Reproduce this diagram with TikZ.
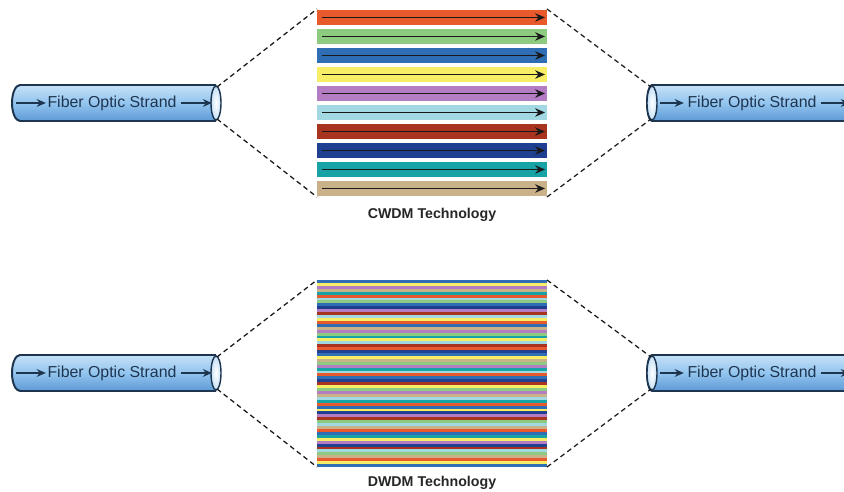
\documentclass[tikz,border=0pt]{standalone}
\usepackage{fontspec}
\setmainfont{Liberation Sans}
\usetikzlibrary{arrows.meta,calc}
\definecolor{w1}{HTML}{E85A2B}
\definecolor{w2}{HTML}{8DCB80}
\definecolor{w3}{HTML}{2F6DB5}
\definecolor{w4}{HTML}{F7EE66}
\definecolor{w5}{HTML}{B37CC3}
\definecolor{w6}{HTML}{A2D8E2}
\definecolor{w7}{HTML}{A8341F}
\definecolor{w8}{HTML}{1F3F90}
\definecolor{w9}{HTML}{17A2A6}
\definecolor{w10}{HTML}{C9B189}
\definecolor{navy}{HTML}{1E3550}
\definecolor{tubetop}{HTML}{C6E1F7}
\definecolor{tubemid}{HTML}{92C4EE}
\definecolor{tubebot}{HTML}{5E9AD6}
\begin{document}
\begin{tikzpicture}[x=0.025cm, y=0.025cm, every node/.style={font=\fontsize{11.3}{13}\selectfont}]
  \tikzstyle{tube}=[top color=tubetop, bottom color=tubebot, middle color=tubemid]
  \tikzstyle{rim}=[draw=navy, line width=1.4pt]
  \tikzstyle{face}=[inner color=white, outer color=tubetop, draw=navy, line width=1pt]
  \tikzstyle{lbl}=[text=navy, inner sep=1pt]
  \tikzstyle{arr}=[-{Stealth[length=6.5pt, width=5.5pt]}, navy, line width=1pt]
  \tikzstyle{band}=[-{Stealth[length=7pt, width=6pt]}, black!90, line width=1pt]
  \tikzstyle{zoom}=[gray!20!black, line width=0.9pt, dash pattern=on 3.5pt off 2.5pt]
  \tikzstyle{title}=[font=\bfseries\fontsize{10.1}{12}\selectfont, text=black!85]
  \fill[white] (0,0) rectangle (844,492);
  \clip (0,0) rectangle (844,492);
  % CWDM: ten wide channels
  \foreach \c [count=\i from 0] in {1,...,10} {
    \fill[w\c] (317,{482-19*\i}) rectangle (547,{467-19*\i});
    \draw[band] (322,{474.5-19*\i}) -- (545,{474.5-19*\i});
  }
  \coordinate (cwdmNW) at (317,483); \coordinate (cwdmSW) at (317,295);
  \coordinate (cwdmNE) at (547,483); \coordinate (cwdmSE) at (547,295);
  \node[title] (cwdm) at (432,277) {CWDM Technology};
  % DWDM: many narrow channels
  \foreach \c [count=\i] in {3,4,5,10,9,1,6,2,3,8,5,7,6,4,1,3,10,5,2,9,4,6,7,1,8,3,4,10,2,5,
      9,6,1,3,8,7,4,2,5,10,6,9,1,3,4,8,5,7,2,6,10,1,3,9,4,5,8,7,6,2,10,1,4,3}
    \fill[w\c] (317,{212-(\i-1)*2.922}) rectangle (547,{212-\i*2.922-0.3});
  \coordinate (dwdmNW) at (317,212); \coordinate (dwdmSW) at (317,25);
  \coordinate (dwdmNE) at (547,212); \coordinate (dwdmSE) at (547,25);
  \node[title] (dwdm) at (432,9) {DWDM Technology};
  % fibers, left and right of each block
  \foreach \y/\r in {389/cwdm, 119/dwdm} {
    \shade[tube] (216,\y+18) -- (20,\y+18) arc[start angle=90, end angle=270, x radius=8, y radius=18]
      -- (216,\y-18) -- cycle;
    \draw[rim] (216,\y+18) -- (20,\y+18) arc[start angle=90, end angle=270, x radius=8, y radius=18]
      -- (216,\y-18);
    \draw[face] (216,\y) ellipse[x radius=5, y radius=17];
    \node[lbl] (fl\r) at (112,\y) {Fiber Optic Strand};
    \draw[arr] ($(fl\r.west)+(-30,0)$) -- (fl\r.west);
    \draw[arr] ($(fl\r.east)+(3,0)$) -- (212,\y);
    \coordinate (flt\r) at (217,\y+16); \coordinate (flb\r) at (217,\y-16);
    \shade[tube] (652,\y+18) -- (850,\y+18) -- (850,\y-18) -- (652,\y-18) -- cycle;
    \draw[rim] (850,\y+18) -- (652,\y+18) arc[start angle=90, end angle=270, x radius=5, y radius=18]
      -- (850,\y-18);
    \draw[face] (652,\y) ellipse[x radius=5, y radius=17];
    \node[lbl] (fr\r) at (752,\y) {Fiber Optic Strand};
    \draw[arr] (660,\y) -- ($(fr\r.west)+(-2,0)$);
    \draw[arr] ($(fr\r.east)+(3,0)$) -- (850,\y);
    \coordinate (frt\r) at (651,\y+16); \coordinate (frb\r) at (651,\y-16);
    \draw[zoom] (flt\r) -- (\r NW); \draw[zoom] (flb\r) -- (\r SW);
    \draw[zoom] (\r NE) -- (frt\r); \draw[zoom] (\r SE) -- (frb\r);
  }
\end{tikzpicture}
\end{document}
